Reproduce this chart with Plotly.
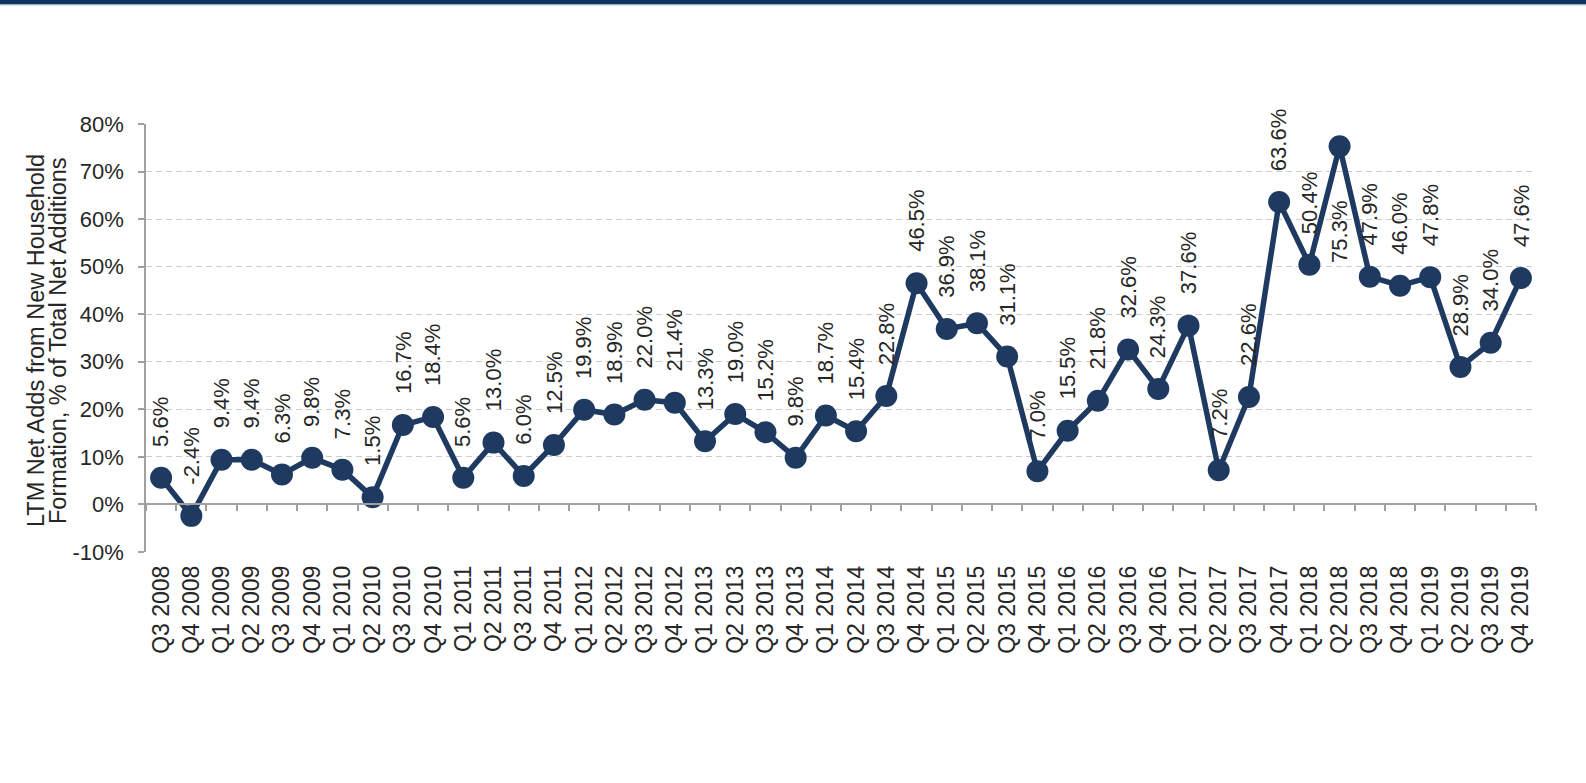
import plotly.graph_objects as go

# LTM net adds from new household formation, % of total net additions
quarters = [
    "Q3 2008", "Q4 2008",
    "Q1 2009", "Q2 2009", "Q3 2009", "Q4 2009",
    "Q1 2010", "Q2 2010", "Q3 2010", "Q4 2010",
    "Q1 2011", "Q2 2011", "Q3 2011", "Q4 2011",
    "Q1 2012", "Q2 2012", "Q3 2012", "Q4 2012",
    "Q1 2013", "Q2 2013", "Q3 2013", "Q4 2013",
    "Q1 2014", "Q2 2014", "Q3 2014", "Q4 2014",
    "Q1 2015", "Q2 2015", "Q3 2015", "Q4 2015",
    "Q1 2016", "Q2 2016", "Q3 2016", "Q4 2016",
    "Q1 2017", "Q2 2017", "Q3 2017", "Q4 2017",
    "Q1 2018", "Q2 2018", "Q3 2018", "Q4 2018",
    "Q1 2019", "Q2 2019", "Q3 2019", "Q4 2019",
]
share_pct = [
    5.6, -2.4,
    9.4, 9.4, 6.3, 9.8,
    7.3, 1.5, 16.7, 18.4,
    5.6, 13.0, 6.0, 12.5,
    19.9, 18.9, 22.0, 21.4,
    13.3, 19.0, 15.2, 9.8,
    18.7, 15.4, 22.8, 46.5,
    36.9, 38.1, 31.1, 7.0,
    15.5, 21.8, 32.6, 24.3,
    37.6, 7.2, 22.6, 63.6,
    50.4, 75.3, 47.9, 46.0,
    47.8, 28.9, 34.0, 47.6,
]
# labels drawn beneath their point instead of above it
labels_below = ["Q2 2018"]

y_ticks = [-10, 0, 10, 20, 30, 40, 50, 60, 70, 80]
y_title_lines = ["LTM Net Adds from New Household", "Formation, % of Total Net Additions"]

NAVY = "#1f3a60"
TEXT = "#262626"
AXIS = "#a0a0a0"
GRID = "#cccccc"
FONT = "Liberation Sans, Arial, sans-serif"

W, H = 1586, 783
M_L, M_R, M_T, M_B = 146, 50, 124, 231
plot_h = H - M_T - M_B
y_min, y_max = y_ticks[0], y_ticks[-1]

fig = go.Figure()

fig.add_trace(go.Scatter(
    x=quarters, y=share_pct,
    mode="lines+markers",
    line=dict(color=NAVY, width=5.5),
    marker=dict(color=NAVY, size=22),
    hoverinfo="skip",
    showlegend=False,
))

# invisible companion trace so the zero-level axis carries the categories
fig.add_trace(go.Scatter(
    x=quarters, y=share_pct,
    xaxis="x2", mode="lines",
    line=dict(width=0), opacity=0,
    hoverinfo="skip", showlegend=False,
))

annotations = []
for q, v in zip(quarters, share_pct):
    below = q in labels_below
    annotations.append(dict(
        x=q, y=v, xref="x", yref="y",
        text=f"{v:.1f}%",
        textangle=-90,
        showarrow=False,
        xanchor="center",
        yanchor="top" if below else "bottom",
        yshift=-53 if below else 29,
        font=dict(family=FONT, size=22, color=TEXT),
    ))

# two-line y-axis title
for line, shift in zip(y_title_lines, [-110, -88]):
    annotations.append(dict(
        x=0, y=0.5, xref="paper", yref="paper",
        xshift=shift, yshift=-3,
        text=line, textangle=-90, showarrow=False,
        xanchor="center", yanchor="middle",
        font=dict(family=FONT, size=23.5, color=TEXT),
    ))

zero_pos = (0 - y_min) / (y_max - y_min)

fig.update_layout(
    width=W, height=H,
    margin=dict(l=M_L, r=M_R, t=M_T, b=M_B),
    paper_bgcolor="white",
    plot_bgcolor="white",
    font=dict(family=FONT, size=22, color=TEXT),
    showlegend=False,
    xaxis=dict(
        type="category",
        categoryorder="array", categoryarray=quarters,
        range=[-0.5, len(quarters) - 0.5],
        showline=False, showgrid=False, zeroline=False,
        ticks="", tickangle=-90,
        ticklabelstandoff=8,
        tickfont=dict(family=FONT, size=23, color=TEXT),
    ),
    xaxis2=dict(
        type="category",
        categoryorder="array", categoryarray=quarters,
        range=[-0.5, len(quarters) - 0.5],
        overlaying="x", anchor="free", position=zero_pos,
        showline=True, linecolor=AXIS, linewidth=1.5,
        ticks="outside", tickson="boundaries", ticklen=6,
        tickcolor=AXIS, tickwidth=1.5,
        showticklabels=False, showgrid=False, zeroline=False,
    ),
    yaxis=dict(
        range=[y_min, y_max],
        tickvals=y_ticks,
        ticktext=[f"{t}%" for t in y_ticks],
        showline=True, linecolor=AXIS, linewidth=1.5,
        ticks="outside", ticklen=6, tickcolor=AXIS, tickwidth=1.5,
        ticklabelstandoff=10,
        showgrid=True, gridcolor=GRID, gridwidth=1, griddash="6px,4px",
        zeroline=False,
        tickfont=dict(family=FONT, size=22, color=TEXT),
    ),
    annotations=annotations,
)

# navy banner along the top edge of the page
top_paper = 1 + M_T / plot_h
fig.add_shape(type="rect", xref="paper", yref="paper",
              x0=-M_L / (W - M_L - M_R) - 0.01, x1=1 + M_R / (W - M_L - M_R) + 0.01,
              y0=top_paper - 4.5 / plot_h, y1=top_paper + 0.01,
              fillcolor="#0e3461", line=dict(width=0), layer="above")
fig.add_shape(type="rect", xref="paper", yref="paper",
              x0=-M_L / (W - M_L - M_R) - 0.01, x1=1 + M_R / (W - M_L - M_R) + 0.01,
              y0=top_paper - 5.5 / plot_h, y1=top_paper - 4.5 / plot_h,
              fillcolor="#b8c6da", line=dict(width=0), layer="above")

fig.write_html("out.html")
